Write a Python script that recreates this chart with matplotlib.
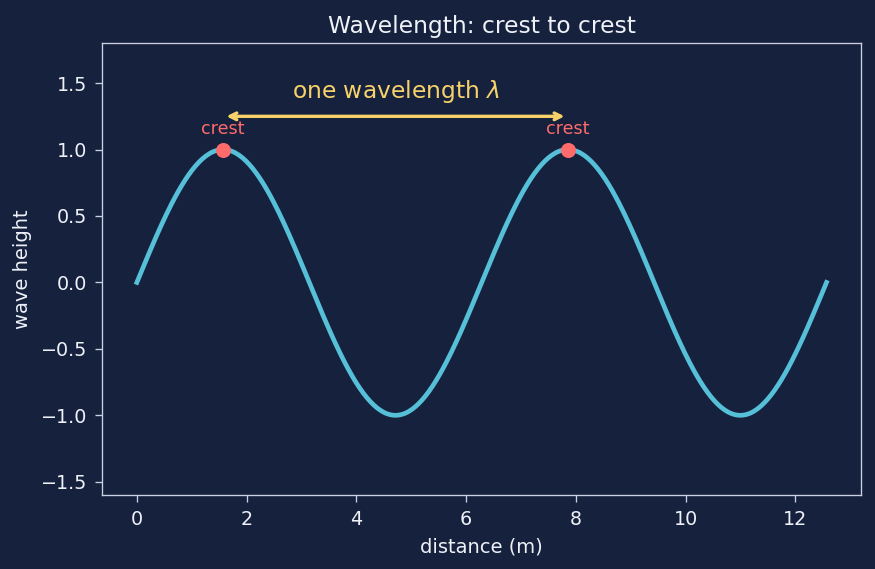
import numpy as np
import matplotlib.pyplot as plt

# wave parameters
amplitude = 1.0
wavelength = 2 * np.pi
n_waves = 2
crest_x = [np.pi / 2, 5 * np.pi / 2]
crest_y = [1.0, 1.0]
crest_labels = ["crest", "crest"]
arrow_y = 1.25

BG = "#16213e"
FG = "#eef1f7"
SPINE = "#c9d1e3"
LINE = "#56c0d8"
CREST = "#ff6b6b"
YELLOW = "#f7d26a"

x = np.linspace(0, n_waves * wavelength, 400)
y = amplitude * np.sin(2 * np.pi * x / wavelength)

fig, ax = plt.subplots(figsize=(875 / 120, 569 / 120), dpi=120)
fig.patch.set_facecolor(BG)
ax.set_facecolor(BG)

ax.plot(x, y, color=LINE, lw=2.8)
ax.plot(crest_x, crest_y, "o", color=CREST, ms=8)
for cx, cy, lab in zip(crest_x, crest_y, crest_labels):
    ax.annotate(lab, (cx, cy), xytext=(0, 7), textcoords="offset points",
                ha="center", va="bottom", color=CREST, fontsize=10.5)

ax.annotate("", xy=(crest_x[0], arrow_y), xytext=(crest_x[1], arrow_y),
            arrowprops=dict(arrowstyle="<->", color=YELLOW, lw=2))
ax.text((crest_x[0] + crest_x[1]) / 2, 1.44, r"one wavelength $\lambda$",
        ha="center", va="center", color=YELLOW, fontsize=14)

ax.set_ylim(-1.6, 1.8)
ax.set_title("Wavelength: crest to crest", color=FG, fontsize=14)
ax.set_xlabel("distance (m)", color=FG, fontsize=11.7, labelpad=5)
ax.set_ylabel("wave height", color=FG, fontsize=11.7, labelpad=5)
ax.tick_params(colors=SPINE, labelcolor=FG, labelsize=11.5, length=4.2, pad=5)
for s in ax.spines.values():
    s.set_color(SPINE)

fig.subplots_adjust(left=0.117, right=0.984, top=0.924, bottom=0.13)
fig.savefig("out.png", facecolor=BG)
